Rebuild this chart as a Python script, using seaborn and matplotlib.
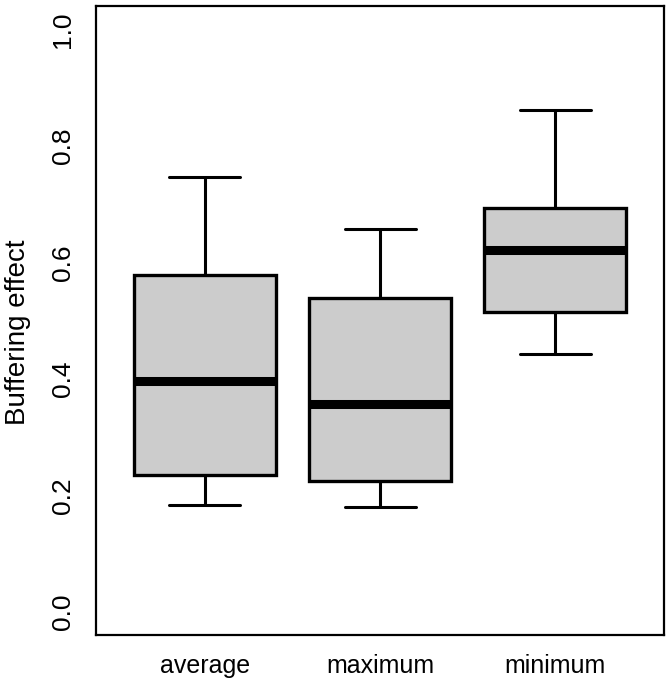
import pandas as pd
import matplotlib
matplotlib.use('Agg')
import matplotlib.pyplot as plt
import seaborn as sns

#values
groups = ['average', 'maximum', 'minimum']
whisker_low = [0.184, 0.180, 0.442]
q1 = [0.235, 0.225, 0.515]
median = [0.397, 0.357, 0.622]
q3 = [0.579, 0.538, 0.694]
whisker_high = [0.746, 0.658, 0.861]

#five points per group so the quartiles land on the read values
rows = []
for i, g in enumerate(groups):
    for v in [whisker_low[i], q1[i], median[i], q3[i], whisker_high[i]]:
        rows.append({'group': g, 'effect': v})
df = pd.DataFrame(rows)

sns.set_theme(style='white')
plt.rcParams['font.family'] = ['Liberation Sans', 'DejaVu Sans']

fig = plt.figure(figsize=(6.72, 6.85), dpi=100)
ax = fig.add_axes([0.143, 0.073, 0.845, 0.918])

sns.boxplot(data=df, x='group', y='effect', order=groups, width=0.81,
            color='#cccccc', linecolor='black', linewidth=2.4, whis=1.5,
            fill=True, saturation=1, ax=ax,
            medianprops={'linewidth': 6.5, 'color': 'black', 'solid_capstyle': 'butt'},
            whiskerprops={'linewidth': 2.2},
            capprops={'linewidth': 2.2},
            boxprops={'edgecolor': 'black'},
            showfliers=False)

ax.set_xlim(-0.62, 2.62)
ax.set_ylim(-0.04, 1.04)
ax.set_yticks([0.0, 0.2, 0.4, 0.6, 0.8, 1.0])
ax.set_yticklabels(['0.0', '0.2', '0.4', '0.6', '0.8', '1.0'], rotation=90, va='center')
ax.tick_params(axis='both', length=7.5, width=1.2, color='black', labelsize=18, labelcolor='black')
ax.tick_params(axis='y', pad=8, labelsize=19)
ax.tick_params(axis='x', pad=6)
ax.set_xlabel('')
ax.set_ylabel('Buffering effect', fontsize=20, color='black', va='center')
ax.yaxis.set_label_coords(-0.137, 0.482)
for s in ax.spines.values():
    s.set_color('black')
    s.set_linewidth(1.6)

fig.savefig('out.png', dpi=100)
